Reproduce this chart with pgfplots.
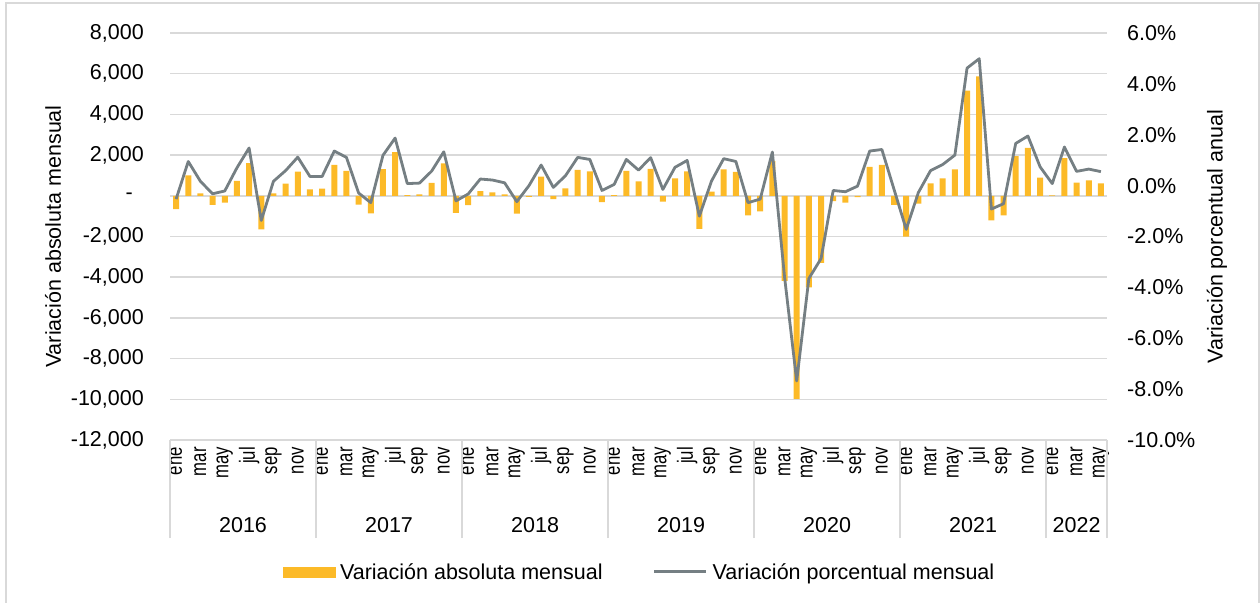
\documentclass[border=0pt]{standalone}
\usepackage{pgfplots}
\pgfplotsset{compat=1.18}
\usepackage{pgfplotstable}
\usepackage{graphicx}
\usepackage{fontspec}
\setmainfont{Liberation Sans}
\definecolor{barc}{RGB}{252,186,40}
\definecolor{linec}{RGB}{117,127,131}
\definecolor{gridc}{RGB}{217,217,217}
\newcommand\basefont{\fontsize{21.5bp}{25bp}\selectfont}
\newcommand\monthfont{\fontsize{22bp}{25bp}\selectfont}
\newcommand\m[1]{\scalebox{0.76}[1]{#1}}

\pgfplotstableread{
idx bar pct
0 -660 -0.53
1 1000 0.95
2 120 0.17
3 -450 -0.32
4 -330 -0.21
5 730 0.70
6 1600 1.48
7 -1650 -1.37
8 120 0.17
9 600 0.59
10 1190 1.12
11 310 0.36
12 350 0.36
13 1520 1.36
14 1220 1.11
15 -430 -0.29
16 -860 -0.67
17 1310 1.19
18 2150 1.87
19 30 0.08
20 70 0.10
21 630 0.57
22 1590 1.33
23 -840 -0.60
24 -460 -0.33
25 230 0.26
26 165 0.22
27 66 0.11
28 -870 -0.63
29 -50 0.00
30 940 0.81
31 -165 -0.07
32 360 0.39
33 1270 1.11
34 1200 1.03
35 -310 -0.19
36 30 0.05
37 1220 1.03
38 710 0.61
39 1320 1.10
40 -280 -0.15
41 860 0.72
42 1200 0.99
43 -1620 -1.20
44 200 0.18
45 1300 1.06
46 1170 0.95
47 -960 -0.67
48 -760 -0.53
49 1700 1.32
50 -4180 -3.58
51 -9980 -7.68
52 -4500 -3.65
53 -3300 -2.87
54 -260 -0.19
55 -330 -0.24
56 -60 -0.02
57 1420 1.36
58 1520 1.42
59 -440 -0.15
60 -2000 -1.72
61 -380 -0.27
62 610 0.59
63 860 0.83
64 1300 1.20
65 5170 4.62
66 5870 4.99
67 -1210 -0.92
68 -960 -0.71
69 1950 1.66
70 2350 1.95
71 890 0.74
72 20 0.08
73 1850 1.52
74 650 0.56
75 760 0.65
76 610 0.55
}\datatab

\begin{document}
\begin{tikzpicture}
\useasboundingbox (0,0) rectangle (1260bp,-603bp);
\draw[gridc, line width=1.5bp] (6bp,-603bp) -- (6bp,-3bp) -- (1259bp,-3bp) -- (1259bp,-603bp);
\begin{axis}[
  at={(170bp,-440bp)}, anchor=south west,
  scale only axis, width=937bp, height=407bp,
  xmin=-0.5, xmax=76.5, ymin=-12000, ymax=8000,
  axis line style={draw=none},
  tick pos=left,
  major tick length=0pt,
  scaled y ticks=false,
  ytick={-12000,-10000,...,8000},
  yticklabels={{-12,000},{-10,000},{-8,000},{-6,000},{-4,000},{-2,000},{-\hspace*{11bp}},{2,000},{4,000},{6,000},{8,000}},
  yticklabel style={font=\basefont, inner sep=0pt, anchor=east, xshift=-26bp},
  xtick={0,2,...,76},
  xticklabels={\m{ene},\m{mar},\m{may},\m{jul},\m{sep},\m{nov},\m{ene},\m{mar},\m{may},\m{jul},\m{sep},\m{nov},\m{ene},\m{mar},\m{may},\m{jul},\m{sep},\m{nov},\m{ene},\m{mar},\m{may},\m{jul},\m{sep},\m{nov},\m{ene},\m{mar},\m{may},\m{jul},\m{sep},\m{nov},\m{ene},\m{mar},\m{may},\m{jul},\m{sep},\m{nov},\m{ene},\m{mar},\m{may}},
  xticklabel style={font=\monthfont, inner sep=0pt, yshift=-7bp, rotate=90, anchor=east},
  extra x ticks={-0.5,11.5,23.5,35.5,47.5,59.5,71.5,76.5},
  extra x tick labels={},
  extra x tick style={major tick length=98bp, tick align=outside, grid=none, tick style={draw=gridc, line width=1.5bp}},
  ymajorgrids,
  grid style={draw=gridc, line width=1.5bp},
]
\addplot[ybar, bar width=6bp, fill=barc, draw=none] table[x=idx, y=bar]{\datatab};
\coordinate (y16) at (axis cs:5.5,-12000);
\coordinate (y17) at (axis cs:17.5,-12000);
\coordinate (y18) at (axis cs:29.5,-12000);
\coordinate (y19) at (axis cs:41.5,-12000);
\coordinate (y20) at (axis cs:53.5,-12000);
\coordinate (y21) at (axis cs:65.5,-12000);
\coordinate (y22) at (axis cs:74,-12000);
\end{axis}
\begin{axis}[
  at={(170bp,-440bp)}, anchor=south west,
  scale only axis, width=937bp, height=407bp,
  xmin=-0.5, xmax=76.5, ymin=-10, ymax=6,
  axis y line*=right, axis x line=none,
  axis line style={draw=none},
  major tick length=0pt,
  ytick={-10,-8,...,6},
  yticklabels={{-10.0\%},{-8.0\%},{-6.0\%},{-4.0\%},{-2.0\%},{0.0\%},{2.0\%},{4.0\%},{6.0\%}},
  yticklabel style={font=\basefont, inner sep=0pt, anchor=west, xshift=20bp},
  legend style={at={(0.5,-0.324)}, anchor=center, draw=none, fill=none, legend columns=2,
    font=\basefont, nodes={inner sep=0pt},
    /tikz/every odd column/.append style={column sep=5bp},
    /tikz/every even column/.append style={column sep=50bp}},
  legend cell align=left,
]
\addlegendimage{legend image code/.code={\fill[barc] (0bp,-5bp) rectangle (52bp,5bp);}}
\addlegendentry{Variación absoluta mensual}
\addplot[draw=linec, line width=2.8bp, line join=round, no marks,
  legend image code/.code={\draw[linec, line width=3bp] (0bp,0bp) -- (52bp,0bp);}]
  table[x=idx, y=pct]{\datatab};
\addlegendentry{Variación porcentual mensual}
\end{axis}
\node[font=\basefont] at ([yshift=-85bp]y16) {2016};
\node[font=\basefont] at ([yshift=-85bp]y17) {2017};
\node[font=\basefont] at ([yshift=-85bp]y18) {2018};
\node[font=\basefont] at ([yshift=-85bp]y19) {2019};
\node[font=\basefont] at ([yshift=-85bp]y20) {2020};
\node[font=\basefont] at ([yshift=-85bp]y21) {2021};
\node[font=\basefont] at ([yshift=-85bp]y22) {2022};
\node[font=\basefont, rotate=90] at (53bp,-236.5bp) {Variación absoluta mensual};
\node[font=\basefont, rotate=90] at (1217bp,-236.5bp) {Variación porcentual anual};
\end{tikzpicture}
\end{document}
